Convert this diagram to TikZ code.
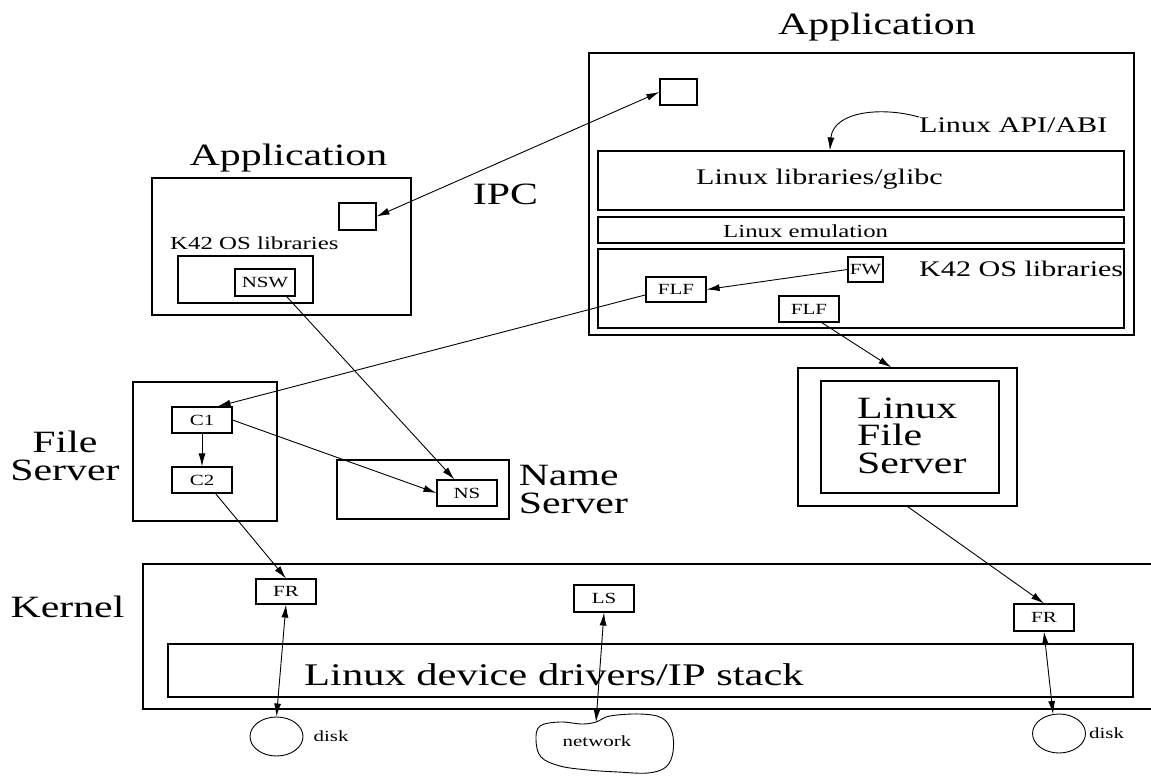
\documentclass[tikz,border=0pt]{standalone}
\usepackage{fontspec}
\setmainfont{Liberation Serif}[FakeStretch=1.35]
\usetikzlibrary{arrows.meta, positioning, shapes.geometric}

\begin{document}
\begin{tikzpicture}[x=1pt, y=-1pt,
    box/.style={draw, rectangle, line width=1.1pt, inner sep=0pt},
    tag/.style={box, minimum width=60pt, minimum height=26pt, font=\fontsize{15.5}{17}\selectfont},
    bigtxt/.style={inner sep=0pt, font=\fontsize{31}{27.5}\selectfont},
    midtxt/.style={inner sep=0pt, font=\fontsize{22.3}{24}\selectfont},
    smalltxt/.style={inner sep=0pt, font=\fontsize{18.4}{20}\selectfont},
    tinytxt/.style={inner sep=0pt, font=\fontsize{15.5}{17}\selectfont},
    disk/.style={draw, ellipse, line width=0.9pt, inner sep=0pt, minimum width=53pt, minimum height=39pt},
    arr/.style={line width=0.9pt, -{Latex[length=13pt, width=7pt]}},
    darr/.style={line width=0.9pt, {Latex[length=13pt, width=7pt]}-{Latex[length=13pt, width=7pt]}}]
        \useasboundingbox (0,0) rectangle (1151,776);

        % Linux application
        \node[bigtxt, anchor=base] (appRtitle) at (877,35) {Application};
        \node[box, minimum width=545pt, minimum height=282pt] (appR) at (861.5,194) {};
        \node[box, minimum width=37pt, minimum height=26pt] (ipcR) at (678.5,92) {};
        \node[midtxt, anchor=base west] (api) at (919,132) {Linux API/ABI};
        \node[box, minimum width=526pt, minimum height=59pt] (glibc) at (861,180.5) {};
        \node[midtxt, anchor=base west] at (696,184) {Linux libraries/glibc};
        \node[box, minimum width=526pt, minimum height=26pt] (emul) at (861,230) {};
        \node[smalltxt, anchor=base west] at (723,237) {Linux emulation};
        \node[box, minimum width=526pt, minimum height=79pt] (k42R) at (861,288.5) {};
        \node[midtxt, anchor=base west] at (919,276) {K42 OS libraries};
        \node[tag, minimum width=35pt, minimum height=25pt] (fw) at (865.5,269.5) {FW};
        \node[tag, minimum height=25pt] (flfA) at (676,289.5) {FLF};
        \node[tag] (flfB) at (809,309) {FLF};

        % K42 application
        \node[bigtxt, anchor=base] (appLtitle) at (288.5,165) {Application};
        \node[box, minimum width=259pt, minimum height=137pt] (appL) at (281.5,246.5) {};
        \node[box, minimum width=37pt, minimum height=27pt] (ipcL) at (357.5,216.5) {};
        \node[smalltxt, anchor=base west] at (170,249) {K42 OS libraries};
        \node[box, minimum width=135pt, minimum height=47pt] (k42L) at (245.5,279.5) {};
        \node[tag, minimum height=27pt] (nsw) at (265,282.5) {NSW};
        \node[bigtxt, anchor=base] (ipc) at (505.5,204) {IPC};

        % File Server
        \node[bigtxt, align=center] at (65,456) {File\\Server};
        \node[box, minimum width=144pt, minimum height=139pt] (fs) at (205,451.5) {};
        \node[tag] (c1) at (202,420) {C1};
        \node[tag] (c2) at (202,480) {C2};

        % Name Server
        \node[box, minimum width=172pt, minimum height=59pt] (nsbox) at (423,489.5) {};
        \node[tag] (ns) at (467,493) {NS};
        \node[bigtxt, align=left, right=9pt of nsbox] {Name\\Server};

        % Linux File Server
        \node[box, minimum width=219pt, minimum height=138pt] (lfsO) at (907.5,437) {};
        \node[box, minimum width=178pt, minimum height=112pt] (lfsI) at (910,437) {};
        \node[bigtxt, align=left, anchor=west] at (857,435.5) {Linux\\File\\Server};

        % Kernel
        \node[bigtxt, anchor=base] at (67.5,617) {Kernel};
        \draw[line width=1.1pt] (1151,564) -- (143,564) -- (143,709) -- (1151,709);
        \node[box, minimum width=965pt, minimum height=53pt] (drv) at (650.5,670.5) {};
        \node[bigtxt, font=\fontsize{31.5}{34}\selectfont, anchor=base west] at (304,685) {Linux device drivers/IP stack};
        \node[tag, minimum height=25pt] (frA) at (286,591.5) {FR};
        \node[tag, minimum height=27pt] (ls) at (604,598.5) {LS};
        \node[tag, minimum height=27pt] (frB) at (1044,617.5) {FR};

        % Disks and network
        \node[disk] (diskA) at (276.5,736.5) {};
        \node[tinytxt, right=10pt of diskA] {disk};
        \node[disk] (diskB) at (1059,733.5) {};
        \node[tinytxt, right=3pt of diskB] {disk};
        \draw[line width=0.9pt] plot[smooth cycle, tension=0.6] coordinates {
            (596,722) (610,716) (640,714) (662,718) (672,732) (673,752) (666,767)
            (648,773) (618,772) (588,770) (560,766) (541,757) (536,740) (540,726)
            (560,722) (582,724)};
        \node[tinytxt] (net) at (597,741) {network};
        \coordinate (nettop) at (596,722);

        % Connectors
        \draw[darr] (ipcL.east) -- (ipcR.west);
        \draw[arr] (api.north west) .. controls (880,106) and (833,112) .. (glibc.136);
        \draw[arr] (fw.west) -- (flfA.east);
        \draw[arr] (flfA.190) -- (c1.41);
        \draw[arr] (flfB.-47) -- (lfsO.103);
        \draw[arr] (nsw.-33) -- (ns.133);
        \draw[arr] (c1.east) -- (ns.west);
        \draw[arr] (c1) -- (c2);
        \draw[arr] (c2.-45) -- (frA.north);
        \draw[arr] (lfsO.south) -- (frB.north);
        \draw[darr] (frA.south) -- (diskA.north);
        \draw[darr] (ls.south) -- (nettop);
        \draw[darr] (frB.south) -- (diskB.107);
    \end{tikzpicture}
\end{document}
